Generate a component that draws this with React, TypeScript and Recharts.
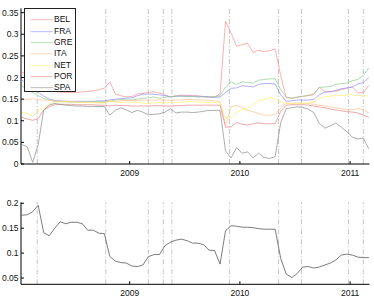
import React from "react";
import { LineChart, Line, XAxis, YAxis, ReferenceLine, Legend } from "recharts";

// sample dates, decimal years
const dates = [
  2008.02, 2008.07, 2008.12, 2008.17, 2008.22, 2008.27, 2008.32, 2008.37, 2008.42, 2008.47,
  2008.52, 2008.57, 2008.62, 2008.67, 2008.72, 2008.77, 2008.82, 2008.87, 2008.92, 2008.97,
  2009.02, 2009.07, 2009.12, 2009.17, 2009.22, 2009.27, 2009.32, 2009.37, 2009.42, 2009.47,
  2009.52, 2009.57, 2009.62, 2009.67, 2009.72, 2009.77, 2009.82, 2009.87, 2009.92, 2009.97,
  2010.02, 2010.07, 2010.12, 2010.17, 2010.22, 2010.27, 2010.32, 2010.37, 2010.42, 2010.47,
  2010.52, 2010.57, 2010.62, 2010.67, 2010.72, 2010.77, 2010.82, 2010.87, 2010.92, 2010.97,
  2011.02, 2011.07, 2011.12, 2011.17,
];

const BEL = [
  0.213, 0.205, 0.195, 0.185, 0.178, 0.172, 0.168, 0.166, 0.165, 0.165,
  0.165, 0.167, 0.168, 0.169, 0.172, 0.175, 0.19, 0.162, 0.158, 0.155,
  0.156, 0.162, 0.163, 0.166, 0.167, 0.164, 0.16, 0.155, 0.157, 0.159,
  0.159, 0.158, 0.158, 0.156, 0.155, 0.154, 0.162, 0.33, 0.303, 0.272,
  0.276, 0.279, 0.258, 0.263, 0.26, 0.262, 0.266, 0.205, 0.153, 0.152,
  0.155, 0.157, 0.158, 0.16, 0.178, 0.167, 0.168, 0.168, 0.172, 0.175,
  0.178, 0.165, 0.165, 0.182,
];
const FRA = [
  0.194, 0.186, 0.176, 0.166, 0.157, 0.15, 0.147, 0.146, 0.145, 0.145,
  0.145, 0.145, 0.145, 0.145, 0.146, 0.146, 0.148, 0.15, 0.151, 0.152,
  0.153, 0.158, 0.161, 0.162, 0.161, 0.16, 0.158, 0.155, 0.157, 0.157,
  0.157, 0.157, 0.156, 0.156, 0.155, 0.154, 0.155, 0.165, 0.175, 0.176,
  0.181, 0.18, 0.178, 0.184, 0.186, 0.186, 0.185, 0.16, 0.145, 0.146,
  0.148, 0.148, 0.148, 0.149, 0.16, 0.166, 0.167, 0.17, 0.174, 0.176,
  0.178, 0.185, 0.188, 0.2,
];
const GRE = [
  0.18, 0.173, 0.165, 0.158, 0.152, 0.148, 0.145, 0.144, 0.144, 0.143,
  0.143, 0.143, 0.144, 0.144, 0.144, 0.144, 0.146, 0.148, 0.149, 0.148,
  0.148, 0.15, 0.152, 0.153, 0.155, 0.152, 0.154, 0.156, 0.157, 0.157,
  0.156, 0.156, 0.155, 0.155, 0.155, 0.156, 0.158, 0.178, 0.19, 0.184,
  0.19, 0.188, 0.187, 0.194, 0.195, 0.197, 0.197, 0.172, 0.155, 0.152,
  0.154, 0.156, 0.159, 0.162, 0.177, 0.178, 0.179, 0.184, 0.186, 0.187,
  0.193, 0.195, 0.205, 0.222,
];
const ITA = [
  0.15, 0.149, 0.151, 0.149, 0.148, 0.147, 0.146, 0.145, 0.144, 0.144,
  0.143, 0.143, 0.143, 0.143, 0.142, 0.142, 0.146, 0.145, 0.146, 0.147,
  0.147, 0.147, 0.148, 0.147, 0.148, 0.148, 0.148, 0.147, 0.148, 0.148,
  0.149, 0.149, 0.148, 0.148, 0.147, 0.146, 0.144, 0.09, 0.132, 0.136,
  0.13, 0.124, 0.121, 0.117, 0.113, 0.113, 0.114, 0.13, 0.14, 0.14,
  0.141, 0.14, 0.14, 0.138, 0.136, 0.134, 0.132, 0.13, 0.128, 0.126,
  0.125, 0.128, 0.125, 0.118,
];
const NET = [
  0.12, 0.117, 0.11, 0.122, 0.13, 0.138, 0.143, 0.144, 0.144, 0.144,
  0.143, 0.142, 0.142, 0.142, 0.141, 0.141, 0.146, 0.143, 0.142, 0.143,
  0.143, 0.142, 0.141, 0.14, 0.141, 0.142, 0.141, 0.142, 0.142, 0.143,
  0.144, 0.144, 0.143, 0.143, 0.142, 0.142, 0.143, 0.105, 0.107, 0.12,
  0.125, 0.128, 0.138, 0.147, 0.149, 0.154, 0.15, 0.143, 0.141, 0.14,
  0.14, 0.14, 0.141, 0.143, 0.152, 0.155, 0.157, 0.159, 0.158, 0.16,
  0.16, 0.158, 0.158, 0.157,
];
const POR = [
  0.108, 0.104, 0.101, 0.105, 0.125, 0.132, 0.137, 0.138, 0.138, 0.138,
  0.137, 0.137, 0.137, 0.137, 0.136, 0.136, 0.134, 0.136, 0.135, 0.135,
  0.134, 0.134, 0.134, 0.134, 0.135, 0.135, 0.134, 0.134, 0.135, 0.135,
  0.136, 0.136, 0.136, 0.136, 0.136, 0.136, 0.136, 0.085, 0.086, 0.096,
  0.092, 0.09, 0.093, 0.095, 0.093, 0.093, 0.093, 0.122, 0.136, 0.137,
  0.137, 0.137, 0.136, 0.134, 0.132, 0.13, 0.127, 0.125, 0.123, 0.121,
  0.12, 0.118, 0.113, 0.108,
];
const SPA = [
  0.045, 0.04, 0.004, 0.045, 0.125, 0.136, 0.14, 0.138, 0.136, 0.135,
  0.134, 0.134, 0.133, 0.133, 0.133, 0.133, 0.113, 0.124, 0.13, 0.125,
  0.119, 0.124, 0.12, 0.114, 0.115, 0.116, 0.12, 0.128, 0.118, 0.12,
  0.12, 0.119, 0.12, 0.122, 0.124, 0.124, 0.124, 0.03, 0.014, 0.038,
  0.025, 0.028, 0.014, 0.025, 0.015, 0.013, 0.017, 0.095, 0.128, 0.13,
  0.132, 0.131, 0.127, 0.119, 0.094, 0.083, 0.088, 0.095, 0.085, 0.075,
  0.062, 0.058, 0.06, 0.035,
];

// lower panel series
const common = [
  0.176, 0.177, 0.183, 0.196, 0.141, 0.135, 0.15, 0.163, 0.159, 0.162,
  0.162, 0.159, 0.146, 0.146, 0.14, 0.139, 0.093, 0.084, 0.081, 0.08,
  0.074, 0.073, 0.076, 0.093, 0.097, 0.097, 0.115, 0.122, 0.126, 0.128,
  0.125, 0.12, 0.12, 0.117, 0.106, 0.105, 0.078, 0.145, 0.155, 0.154,
  0.152, 0.152, 0.151, 0.149, 0.148, 0.148, 0.148, 0.09, 0.058, 0.051,
  0.059, 0.072, 0.073, 0.07, 0.072, 0.076, 0.08, 0.086, 0.096, 0.098,
  0.096, 0.092, 0.091, 0.091,
];

const events = [2008.161, 2008.783, 2009.169, 2009.305, 2009.383, 2009.905, 2010.351, 2010.559, 2010.985, 2011.12];
const yearTicks = [2009, 2010, 2011];
const topTicks = [0, 0.05, 0.1, 0.15, 0.2, 0.25, 0.3, 0.35];
const bottomTicks = [0.05, 0.1, 0.15, 0.2];

const countries = ["BEL", "FRA", "GRE", "ITA", "NET", "POR", "SPA"];
const series: Record<string, number[]> = { BEL, FRA, GRE, ITA, NET, POR, SPA };
const colors: Record<string, string> = {
  BEL: "#ff8c8c",
  FRA: "#8c8cff",
  GRE: "#8ccc8c",
  ITA: "#ffc090",
  NET: "#ffee70",
  POR: "#e48484",
  SPA: "#8a8a8a",
};

const topData = dates.map((t, i) => {
  const row: Record<string, number> = { t };
  countries.forEach((c) => (row[c] = series[c][i]));
  return row;
});
const bottomData = dates.map((t, i) => ({ t, v: common[i] }));

const xDomain = [2008.014, 2011.176];
const font = "'Liberation Sans', Arial, sans-serif";
const tickStyle = { fontSize: 8.5, fill: "#111", fontFamily: font };
const fmtY = (v: number) => String(Number(v.toFixed(2)));

function LegendBox() {
  return (
    <div
      style={{
        position: "relative",
        width: 52,
        height: 84,
        boxSizing: "border-box",
        border: "0.8px solid #222",
        background: "#fff",
        fontFamily: font,
        fontSize: 8.5,
        color: "#111",
      }}
    >
      {countries.map((c, i) => (
        <div
          key={c}
          style={{ position: "absolute", left: 0, top: 5 + i * 11.33, height: 11.33, width: 52 }}
        >
          <svg width={52} height={11.33} style={{ position: "absolute", left: 0, top: 0 }}>
            <line x1={5.5} x2={27.8} y1={5.66} y2={5.66} stroke={colors[c]} strokeWidth={0.6} />
          </svg>
          <span style={{ position: "absolute", left: 29.5, top: 0, lineHeight: "11.33px" }}>{c}</span>
        </div>
      ))}
    </div>
  );
}

export default function App() {
  const eventLines = events.map((e) => (
    <ReferenceLine
      key={e}
      x={e}
      stroke="#b8b8b8"
      strokeWidth={0.8}
      strokeDasharray="5 2 1 2"
    />
  ));

  return (
    <div style={{ position: "absolute", left: 0, top: 0, width: 374, height: 297, background: "#fff" }}>
      <div style={{ position: "absolute", left: 0, top: 0 }}>
        <LineChart width={374} height={185} data={topData} margin={{ top: 8.3, right: 4.5, bottom: 0, left: 0 }}>
          <XAxis
            dataKey="t"
            type="number"
            domain={xDomain}
            allowDataOverflow
            ticks={yearTicks}
            tickFormatter={(v) => String(v)}
            height={21}
            tickSize={-3}
            tickMargin={8.5}
            tick={tickStyle}
            stroke="#000"
          />
          <XAxis
            xAxisId="top"
            orientation="top"
            dataKey="t"
            type="number"
            domain={xDomain}
            allowDataOverflow
            ticks={yearTicks}
            tickFormatter={() => ""}
            height={0}
            tickSize={-3}
            stroke="#000"
          />
          <YAxis
            type="number"
            domain={[0, 0.36]}
            allowDataOverflow
            ticks={topTicks}
            tickFormatter={fmtY}
            width={21}
            tickSize={-3}
            tickMargin={5.5}
            tick={tickStyle}
            stroke="#000"
          />
          <YAxis
            yAxisId="right"
            orientation="right"
            type="number"
            domain={[0, 0.36]}
            allowDataOverflow
            ticks={topTicks}
            tickFormatter={() => ""}
            width={0}
            tickSize={-3}
            stroke="#000"
          />
          {eventLines}
          {countries.map((c) => (
            <Line
              key={c}
              dataKey={c}
              name={c}
              type="linear"
              stroke={colors[c]}
              strokeWidth={0.7}
              dot={false}
              isAnimationActive={false}
            />
          ))}
          <Legend
            layout="vertical"
            align="center"
            verticalAlign="middle"
            content={() => <LegendBox />}
            wrapperStyle={{ left: 23.5, top: 8.3, width: 52, height: 84 }}
          />
        </LineChart>
      </div>
      <div style={{ position: "absolute", left: 0, top: 190 }}>
        <LineChart width={374} height={107} data={bottomData} margin={{ top: 12.3, right: 4.5, bottom: 0, left: 0 }}>
          <XAxis
            dataKey="t"
            type="number"
            domain={xDomain}
            allowDataOverflow
            ticks={yearTicks}
            tickFormatter={(v) => String(v)}
            height={12.7}
            tickSize={-3}
            tickMargin={8.5}
            tick={tickStyle}
            stroke="#000"
          />
          <XAxis
            xAxisId="top"
            orientation="top"
            dataKey="t"
            type="number"
            domain={xDomain}
            allowDataOverflow
            ticks={yearTicks}
            tickFormatter={() => ""}
            height={0}
            tickSize={-3}
            stroke="#000"
          />
          <YAxis
            type="number"
            domain={[0.0374, 0.202]}
            allowDataOverflow
            ticks={bottomTicks}
            tickFormatter={fmtY}
            width={21}
            tickSize={-3}
            tickMargin={5.5}
            tick={tickStyle}
            stroke="#000"
          />
          <YAxis
            yAxisId="right"
            orientation="right"
            type="number"
            domain={[0.0374, 0.202]}
            allowDataOverflow
            ticks={bottomTicks}
            tickFormatter={() => ""}
            width={0}
            tickSize={-3}
            stroke="#000"
          />
          {eventLines}
          <Line
            dataKey="v"
            type="linear"
            stroke="#5a5a5a"
            strokeWidth={0.8}
            dot={false}
            isAnimationActive={false}
          />
        </LineChart>
      </div>
    </div>
  );
}
